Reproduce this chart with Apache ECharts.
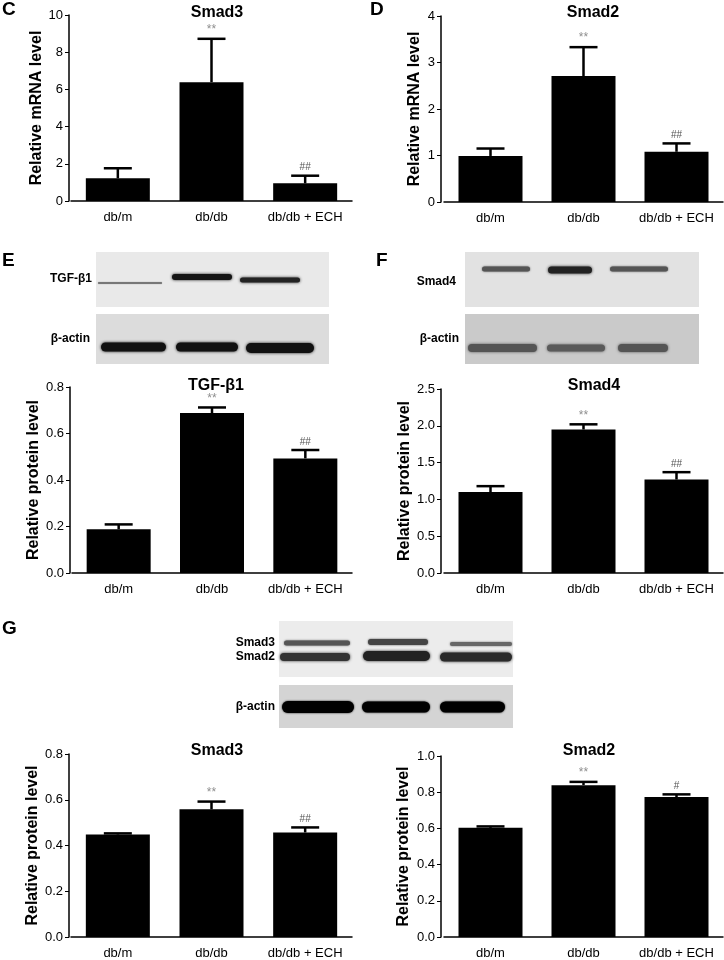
<!DOCTYPE html>
<html><head><meta charset="utf-8">
<script src="https://cdn.jsdelivr.net/npm/echarts@6/dist/echarts.min.js"></script>
<style>html,body{margin:0;padding:0;background:#fff}#c{width:724px;height:960px}</style>
</head><body><div id="c"></div>
<script>
// ---------- data ----------
const groups = ['db/m', 'db/db', 'db/db + ECH'];

const smad3Mrna = [1.22, 6.39, 0.95];
const smad3MrnaErr = [0.54, 2.33, 0.41];
const smad3MrnaSig = ['', '**', '##'];
const smad3MrnaAxis = [0, 10, 2];

const smad2Mrna = [0.99, 2.71, 1.08];
const smad2MrnaErr = [0.16, 0.62, 0.18];
const smad2MrnaSig = ['', '**', '##'];
const smad2MrnaAxis = [0, 4, 1];

const tgfProt = [0.188, 0.688, 0.493];
const tgfProtErr = [0.021, 0.024, 0.036];
const tgfProtSig = ['', '**', '##'];
const tgfProtAxis = [0, 0.8, 0.2];

const smad4Prot = [1.10, 1.95, 1.27];
const smad4ProtErr = [0.08, 0.07, 0.10];
const smad4ProtSig = ['', '**', '##'];
const smad4ProtAxis = [0, 2.5, 0.5];

const smad3Prot = [0.448, 0.558, 0.457];
const smad3ProtErr = [0.005, 0.034, 0.022];
const smad3ProtSig = ['', '**', '##'];
const smad3ProtAxis = [0, 0.8, 0.2];

const smad2Prot = [0.603, 0.839, 0.773];
const smad2ProtErr = [0.008, 0.018, 0.015];
const smad2ProtSig = ['', '**', '#'];
const smad2ProtAxis = [0, 1.0, 0.2];

const panelTitles = ['Smad3', 'Smad2', 'TGF-β1', 'Smad4', 'Smad3', 'Smad2'];
const yNames = ['Relative mRNA level', 'Relative mRNA level', 'Relative protein level',
  'Relative protein level', 'Relative protein level', 'Relative protein level'];

// ---------- layout ----------
const FONT = '"Liberation Sans", Arial, sans-serif';
const panels = [
  {v: smad3Mrna, e: smad3MrnaErr, s: smad3MrnaSig, ax: smad3MrnaAxis, dec: 0, left: 71, top: 15, width: 281, height: 186, off: 2, gap: 24, tx: 212, ty: 0},
  {v: smad2Mrna, e: smad2MrnaErr, s: smad2MrnaSig, ax: smad2MrnaAxis, dec: 0, left: 444, top: 16, width: 279, height: 186, off: 3, gap: 18, tx: 588, ty: 0},
  {v: tgfProt, e: tgfProtErr, s: tgfProtSig, ax: tgfProtAxis, dec: 1, left: 72, top: 387, width: 280, height: 186, off: 2, gap: 27, tx: 211, ty: 373},
  {v: smad4Prot, e: smad4ProtErr, s: smad4ProtSig, ax: smad4ProtAxis, dec: 1, left: 444, top: 389, width: 279, height: 184, off: 3, gap: 28, tx: 589, ty: 373},
  {v: smad3Prot, e: smad3ProtErr, s: smad3ProtSig, ax: smad3ProtAxis, dec: 1, left: 71, top: 754, width: 281, height: 185, off: 2, gap: 25, tx: 212, ty: 738},
  {v: smad2Prot, e: smad2ProtErr, s: smad2ProtSig, ax: smad2ProtAxis, dec: 1, left: 444, top: 756, width: 279, height: 184, off: 3, gap: 29, tx: 584, ty: 738}
];

function errSeries(i, p) {
  return {
    type: 'custom', xAxisIndex: i, yAxisIndex: i, z: 4, silent: true,
    data: p.v.map((val, k) => [k, val, p.e[k]]),
    renderItem: function (params, api) {
      const x = api.value(0), val = api.value(1), er = api.value(2);
      const base = api.coord([x, val]);
      const top = api.coord([x, val + er]);
      const sig = p.s[params.dataIndex];
      const ch = [
        {type: 'line', shape: {x1: base[0], y1: base[1], x2: top[0], y2: top[1]}, style: {stroke: '#000', lineWidth: 2.5}},
        {type: 'line', shape: {x1: top[0] - 14, y1: top[1], x2: top[0] + 14, y2: top[1]}, style: {stroke: '#000', lineWidth: 2.5}}
      ];
      if (sig) {
        ch.push({type: 'text', x: top[0], y: top[1] - 3,
          style: {text: sig, align: 'center', verticalAlign: 'bottom',
            fill: sig === '**' ? '#8f8f8f' : '#555', font: (sig === '**' ? '12px ' : '10px ') + FONT}});
      }
      return {type: 'group', children: ch};
    }
  };
}

const option = {
  backgroundColor: '#fff',
  animation: false,
  textStyle: {fontFamily: FONT},
  title: panels.map((p, i) => ({
    text: panelTitles[i], left: p.tx, top: p.ty, textAlign: 'center',
    textStyle: {fontFamily: FONT, fontWeight: 'bold', fontSize: 16, color: '#000'}
  })),
  grid: panels.map(p => ({left: p.left, top: p.top, width: p.width, height: p.height})),
  xAxis: panels.map((p, i) => ({
    type: 'category', gridIndex: i, data: groups,
    axisLine: {lineStyle: {color: '#000', width: 1.5}},
    axisTick: {alignWithLabel: true, length: 4, lineStyle: {color: '#000', width: 1}},
    axisLabel: {color: '#000', fontSize: 13, margin: 10, fontFamily: FONT, interval: 0}
  })),
  yAxis: panels.map((p, i) => ({
    type: 'value', gridIndex: i, min: p.ax[0], max: p.ax[1], interval: p.ax[2], offset: p.off,
    axisLine: {show: true, lineStyle: {color: '#000', width: 1.5}},
    axisTick: {show: true, length: 4, lineStyle: {color: '#000', width: 1}},
    splitLine: {show: false},
    axisLabel: {color: '#000', fontSize: 13, margin: 6, fontFamily: FONT,
      formatter: v => v.toFixed(p.dec)},
    name: yNames[i], nameLocation: 'middle', nameRotate: 90, nameGap: p.gap,
    nameTextStyle: {fontFamily: FONT, fontWeight: 'bold', fontSize: 16, color: '#000'}
  })),
  series: panels.flatMap((p, i) => [
    {type: 'bar', xAxisIndex: i, yAxisIndex: i, data: p.v, barWidth: 64,
      itemStyle: {color: '#000'}, silent: true, z: 3},
    errSeries(i, p)
  ]),
  graphic: []
};

// ---------- blots (decorative) ----------
const g = [];
function letter(t, x, y) { g.push({type: 'text', x: x, y: y, style: {text: t, font: 'bold 19px ' + FONT, fill: '#000'}}); }
function lbl(t, xr, yc) { g.push({type: 'text', x: xr, y: yc, style: {text: t, font: 'bold 12px ' + FONT, fill: '#000', align: 'right', verticalAlign: 'middle'}}); }
function panel(x, y, w, h, fill) { g.push({type: 'rect', shape: {x: x, y: y, width: w, height: h}, style: {fill: fill}}); }
function band(x1, x2, yc, h, col, blur) {
  g.push({type: 'rect', shape: {x: x1, y: yc - h / 2, width: x2 - x1, height: h, r: h / 2},
    style: {fill: col, shadowBlur: blur, shadowColor: col}});
}
letter('C', 2, 0); letter('D', 370, 0); letter('E', 2, 251); letter('F', 376, 251); letter('G', 2, 619);

// E
panel(96, 252, 233, 55, '#e9e9e9');
panel(96, 314, 233, 50, '#dcdcdc');
lbl('TGF-β1', 92, 279); lbl('β-actin', 90, 339);
band(98, 162, 283, 2, '#777', 1);
band(172, 232, 277, 6, '#151515', 3);
band(240, 300, 280, 5, '#222', 3);
band(101, 166, 347, 9, '#111', 3);
band(176, 238, 347, 9, '#111', 3);
band(246, 314, 348, 10, '#111', 3);

// F
panel(465, 252, 234, 55, '#e2e2e2');
panel(465, 314, 234, 50, '#cacaca');
lbl('Smad4', 456, 282); lbl('β-actin', 459, 339);
band(482, 530, 269, 5, '#555', 2);
band(548, 592, 270, 7, '#222', 3);
band(610, 668, 269, 5, '#555', 2);
band(468, 537, 348, 8, '#555', 3);
band(547, 605, 348, 7, '#5a5a5a', 3);
band(618, 668, 348, 8, '#555', 3);

// G
panel(279, 621, 234, 56, '#ececec');
panel(279, 685, 234, 43, '#d4d4d4');
lbl('Smad3', 275, 643); lbl('Smad2', 275, 657); lbl('β-actin', 275, 707);
band(284, 350, 643, 5, '#555', 2);
band(368, 428, 642, 6, '#444', 2);
band(450, 512, 644, 4, '#666', 2);
band(280, 350, 657, 8, '#333', 3);
band(363, 430, 656, 10, '#222', 3);
band(440, 512, 657, 9, '#2a2a2a', 3);
band(282, 354, 707, 12, '#000', 2);
band(362, 430, 707, 11, '#000', 2);
band(440, 505, 707, 11, '#000', 2);

option.graphic = g;

const chart = echarts.init(document.getElementById('c'), null, {renderer: 'canvas'});
chart.setOption(option);
</script>
</body></html>
